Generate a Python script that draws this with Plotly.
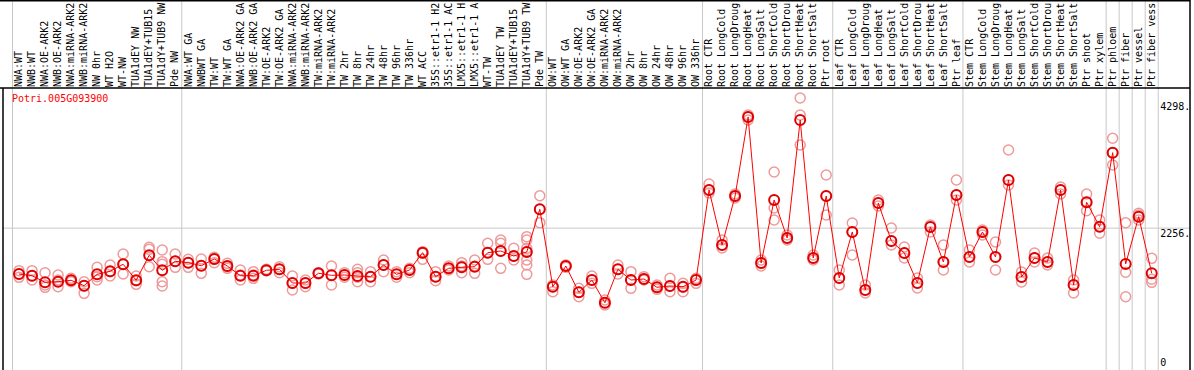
import plotly.graph_objects as go

categories = [
    "NWA:WT", "NWB:WT", "NWA:OE-ARK2", "NWB:OE-ARK2", "NWA:miRNA-ARK2", "NWB:miRNA-ARK2",
    "NW 0hr", "WT H2O", "WT-NW", "TUA1dEY NW", "TUA1dEY+TUB15", "TUA1dY+TUB9 NW", "Pde NW",
    "NWA:WT GA", "NWBWT GA", "TW:WT", "TW:WT GA", "NWA:OE-ARK2 GA", "NWB:OE-ARK2 GA",
    "TW:OE-ARK2", "TW:OE-ARK2 GA", "NWA:miRNA-ARK2", "NWB:miRNA-ARK2", "TW:miRNA-ARK2",
    "TW:miRNA-ARK2", "TW 2hr", "TW 8hr", "TW 24hr", "TW 48hr", "TW 96hr", "TW 336hr",
    "WT ACC", "35S::etr1-1 H2", "35S::etr1-1 AC", "LMX5::etr1-1 H", "LMX5::etr1-1 A",
    "WT-TW", "TUA1dEY TW", "TUA1dEY+TUB15", "TUA1dY+TUB9 TW", "Pde TW",
    "OW:WT", "OW:WT GA", "OW:OE-ARK2", "OW:OE-ARK2 GA", "OW:miRNA-ARK2", "OW:miRNA-ARK2",
    "OW 2hr", "OW 8hr", "OW 24hr", "OW 48hr", "OW 96hr", "OW 336hr",
    "Root CTR", "Root LongCold", "Root LongDroug", "Root LongHeat", "Root LongSalt",
    "Root ShortCold", "Root ShortDrou", "Root ShortHeat", "Root ShortSalt", "Ptr root",
    "Leaf CTR", "Leaf LongCold", "Leaf LongDroug", "Leaf LongHeat", "Leaf LongSalt",
    "Leaf ShortCold", "Leaf ShortDrou", "Leaf ShortHeat", "Leaf ShortSalt", "Ptr leaf",
    "Stem CTR", "Stem LongCold", "Stem LongDroug", "Stem LongHeat", "Stem LongSalt",
    "Stem ShortCold", "Stem ShortDrou", "Stem ShortHeat", "Stem ShortSalt",
    "Ptr shoot", "Ptr xylem", "Ptr phloem", "Ptr fiber", "Ptr vessel", "Ptr fiber vess",
]

means = [
    1516, 1489, 1382, 1392, 1415, 1328, 1511, 1560, 1673, 1415, 1818, 1576, 1721,
    1699, 1650, 1758, 1645, 1489, 1489, 1576, 1592, 1371, 1371, 1528, 1495, 1500,
    1484, 1473, 1661, 1511, 1581, 1860, 1473, 1608, 1624, 1634, 1860, 1887, 1807,
    1871, 2560,
    1311, 1645, 1221, 1419, 1053, 1592, 1419, 1436, 1302, 1323, 1311, 1419,
    2871, 1984, 2774, 4049, 1694, 2710, 2097, 4000, 1774, 2774,
    1452, 2194, 1258, 2661, 2049, 1855, 1371, 2274, 1710, 2790,
    1790, 2194, 1790, 3032, 1468, 1774, 1710, 2871, 1339,
    2673, 2279, 3473, 1678, 2441, 1528,
]

replicates = [
    [1570, 1516, 1462], [1570, 1489, 1419], [1537, 1339, 1301], [1500, 1419, 1312],
    [1446, 1419, 1392], [1392, 1323, 1204], [1624, 1473, 1419], [1661, 1554, 1484],
    [1839, 1672, 1516], [1484, 1409, 1350], [1946, 1914, 1634],
    [1903, 1715, 1672, 1392, 1323], [1839, 1721, 1624],
    [1753, 1699, 1624], [1758, 1651, 1527], [1785, 1753, 1699], [1688, 1634, 1608],
    [1581, 1500, 1419], [1554, 1500, 1446], [1592, 1570, 1570], [1634, 1592, 1538],
    [1484, 1366, 1258], [1419, 1366, 1312], [1538, 1527, 1516], [1645, 1500, 1339],
    [1538, 1500, 1463], [1592, 1538, 1463, 1392], [1554, 1473, 1392], [1742, 1661, 1554],
    [1554, 1511, 1463], [1608, 1581, 1538], [1876, 1850, 1753], [1554, 1473, 1409],
    [1645, 1608, 1581], [1699, 1645, 1538], [1742, 1645, 1527], [2011, 1860, 1753],
    [2065, 2011, 1887, 1608], [1930, 1807, 1742],
    [2118, 2065, 1930, 1876, 1742, 1661, 1511], [2779, 2560, 2344],
    [1339, 1312, 1231], [1661, 1645, 1624], [1285, 1221, 1150], [1484, 1419, 1366],
    [1097, 1053, 1016], [1661, 1592, 1516], [1554, 1419, 1285], [1473, 1436, 1419],
    [1339, 1302, 1269], [1446, 1323, 1231], [1366, 1302, 1231], [1446, 1419, 1366],
    [2968, 2871, 2823], [2065, 1984, 1936], [2807, 2774, 2742], [4081, 4049, 4000],
    [1742, 1694, 1645], [3161, 2581, 2387], [2145, 2097, 2065], [4355, 4081, 3597],
    [1823, 1774, 1742], [3113, 2774, 2468],
    [1581, 1452, 1339], [2339, 2194, 1823], [1339, 1258, 1210], [2710, 2661, 2613],
    [2258, 2049, 1984], [1952, 1855, 1774], [1452, 1371, 1290], [2307, 2274, 2194],
    [1984, 1710, 1581], [3032, 2790, 2710],
    [1903, 1790, 1710], [2226, 2194, 2145], [2032, 1790, 1581], [3516, 3032, 2952],
    [1548, 1468, 1387], [1855, 1774, 1710], [1774, 1710, 1661], [2920, 2871, 2807],
    [1419, 1339, 1210],
    [2807, 2673, 2537], [2387, 2279, 2173], [3705, 3473, 3274], [2344, 1544, 1150],
    [2495, 2468, 2387], [1769, 1431, 1382],
]

gene_title = "Potri.005G093900"
ytick_vals = [2256, 4298]
ytick_text = ["2256.", "4298."]
yzero_vals = [0]
yzero_text = ["0"]
group_bounds = [-0.5, 12.5, 40.5, 52.5, 62.5, 72.5, 83.5, 84.5, 85.5, 86.5, 87.5]

xs = list(range(len(categories)))
rx, ry = [], []
for i, reps in enumerate(replicates):
    for v in reps:
        rx.append(i)
        ry.append(v)

MONO = "DejaVu Sans Mono"
W, H = 1194, 370
ML, MR, MT, MB = 3, 4, 88, 0
PW = W - ML - MR
PH = H - MT - MB
top_paper = 1 + MT / PH
YRANGE = [-32, 4516]

fig = go.Figure()
fig.add_trace(go.Scatter(
    x=rx, y=ry, mode="markers",
    marker=dict(symbol="circle-open", size=10, color="#ef9a9a", line=dict(width=1.5)),
    hoverinfo="skip", showlegend=False))
fig.add_trace(go.Scatter(
    x=xs, y=means, mode="lines+markers",
    line=dict(color="#ff0000", width=1),
    marker=dict(symbol="circle-open", size=10, color="#e00000", line=dict(width=2)),
    showlegend=False))
# empty trace so the secondary (zero-label) axis is rendered
fig.add_trace(go.Scatter(x=[], y=[], yaxis="y2", showlegend=False, hoverinfo="skip"))

shapes = []
for b in group_bounds:
    shapes.append(dict(type="line", xref="x", yref="paper", x0=b, x1=b, y0=0, y1=top_paper,
                       line=dict(color="#c8c8c8", width=1), layer="below"))
shapes.append(dict(type="line", xref="paper", yref="y", x0=0, x1=1, y0=2256, y1=2256,
                   line=dict(color="#c8c8c8", width=1), layer="below"))
# frame
shapes.append(dict(type="line", xref="paper", yref="paper", x0=-ML / PW, x1=1, y0=1, y1=1,
                   line=dict(color="black", width=1.5)))
shapes.append(dict(type="line", xref="paper", yref="paper", x0=0, x1=0, y0=0, y1=1,
                   line=dict(color="black", width=1.5)))
shapes.append(dict(type="line", xref="paper", yref="paper", x0=1, x1=1, y0=0, y1=top_paper,
                   line=dict(color="black", width=1.5)))
shapes.append(dict(type="line", xref="paper", yref="paper", x0=-ML / PW, x1=1,
                   y0=top_paper - 0.7 / PH, y1=top_paper - 0.7 / PH,
                   line=dict(color="black", width=1.5)))

tickfont = dict(family=MONO, size=10, color="black")
fig.update_layout(
    width=W, height=H,
    margin=dict(l=ML, r=MR, t=MT, b=MB, pad=0),
    paper_bgcolor="white", plot_bgcolor="white",
    shapes=shapes,
    xaxis=dict(range=[-1.229, 89.94], side="top", tickmode="array", tickvals=xs,
               ticktext=categories, tickangle=-90, showgrid=False, zeroline=False,
               showline=False, ticks="", tickfont=tickfont),
    yaxis=dict(range=YRANGE, anchor="free", position=0.974, side="right",
               tickmode="array", tickvals=ytick_vals, ticktext=ytick_text,
               ticklabelshift=5,
               showgrid=False, zeroline=False, showline=False, ticks="",
               tickfont=tickfont),
    yaxis2=dict(range=YRANGE, overlaying="y", anchor="free", position=0.974, side="right",
                tickmode="array", tickvals=yzero_vals, ticktext=yzero_text,
                ticklabelshift=-6,
                showgrid=False, zeroline=False, showline=False, ticks="",
                tickfont=tickfont),
    annotations=[dict(text=gene_title, xref="paper", yref="paper",
                      x=(10 - ML) / PW, y=(H - 98) / PH, xanchor="left", yanchor="middle",
                      showarrow=False, font=dict(family=MONO, size=10, color="#ff0000"))],
)

fig.write_html("out.html", config={"displayModeBar": False},
               post_script="document.body.style.margin='0';document.body.style.overflow='hidden';")
